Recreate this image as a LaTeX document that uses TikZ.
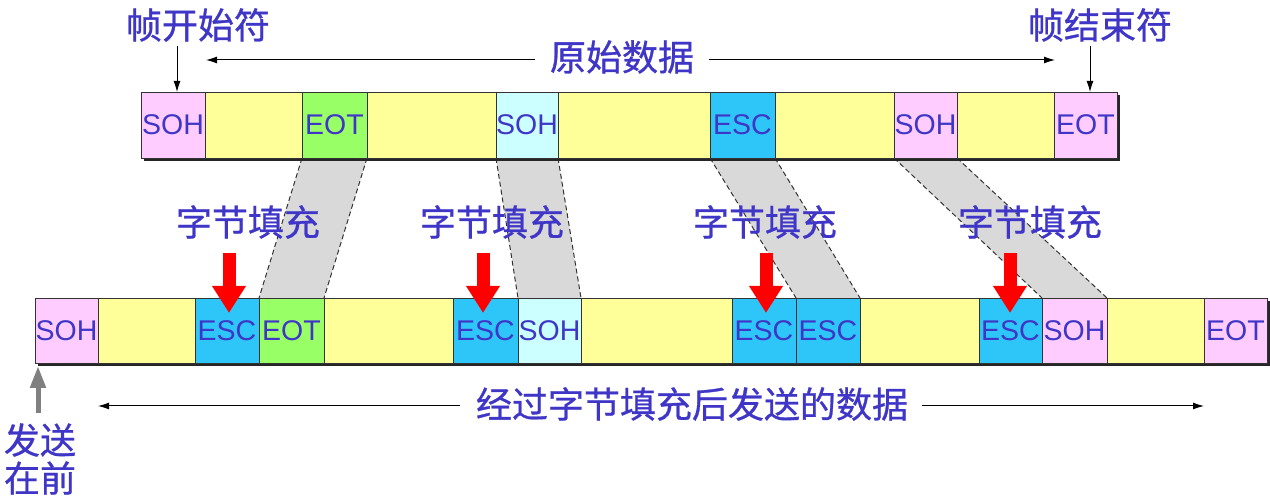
\documentclass[tikz,border=0pt]{standalone}
\usepackage{fontspec}
\setmainfont{Liberation Sans}
\newfontfamily\cjk[FakeBold=0.8]{Noto Sans CJK SC}
\usetikzlibrary{arrows.meta}
\newcommand\celltxt[1]{\makebox[0pt]{#1}}
\definecolor{txt}{HTML}{3F36C8}
\definecolor{pinkc}{HTML}{FFCCFF}
\definecolor{yelc}{HTML}{FFFF99}
\definecolor{grnc}{HTML}{99FF66}
\definecolor{cyac}{HTML}{CCFFFF}
\definecolor{escc}{HTML}{2EC6F8}
\definecolor{bandc}{HTML}{D9D9D9}
\tikzset{
  cell/.style={draw=black!80, line width=0.8pt, minimum height=66pt, inner sep=0pt, outer sep=0pt,
    anchor=north west, font=\fontsize{28.5}{32}\selectfont, text=txt},
  bcell/.style={cell, minimum height=65pt},
  lbl/.style={inner sep=0pt, text=txt, font=\cjk\fontsize{36}{40}\selectfont},
  arr/.style={line width=1pt, -{Latex[length=11pt,width=7pt]}},
  shadowc/.style={fill=black!85},
  band/.style={fill=bandc},
  bandedge/.style={line width=1pt, black!80, dash pattern=on 5pt off 3pt},
  redarrow/.style={red, line width=13pt, -{Triangle[width=32pt,length=27pt]}},
  grayarrow/.style={black!50, line width=5pt, -{Triangle[width=15pt,length=22pt]}}
}
\begin{document}
\begin{tikzpicture}[x=1pt,y=-1pt]
\useasboundingbox (0,0) rectangle (1270,502);
% top bar (placed first for positions, drawn later)
\path
  node[cell, minimum width=64pt, fill=pinkc] (t1) at (141,92) {}
  node[cell, minimum width=97pt, fill=yelc] (t2) at (t1.north east) {}
  node[cell, minimum width=65pt, fill=grnc] (t3) at (t2.north east) {}
  node[cell, minimum width=129pt, fill=yelc] (t4) at (t3.north east) {}
  node[cell, minimum width=62pt, fill=cyac] (t5) at (t4.north east) {}
  node[cell, minimum width=152pt, fill=yelc] (t6) at (t5.north east) {}
  node[cell, minimum width=65pt, fill=escc] (t7) at (t6.north east) {}
  node[cell, minimum width=119pt, fill=yelc] (t8) at (t7.north east) {}
  node[cell, minimum width=63pt, fill=pinkc] (t9) at (t8.north east) {}
  node[cell, minimum width=97pt, fill=yelc] (t10) at (t9.north east) {}
  node[cell, minimum width=63pt, fill=pinkc] (t11) at (t10.north east) {};
\path
  node[bcell, minimum width=63pt, fill=pinkc] (b1) at (35,298) {}
  node[bcell, minimum width=97pt, fill=yelc] (b2) at (b1.north east) {}
  node[bcell, minimum width=64pt, fill=escc] (b3) at (b2.north east) {}
  node[bcell, minimum width=65pt, fill=grnc] (b4) at (b3.north east) {}
  node[bcell, minimum width=129pt, fill=yelc] (b5) at (b4.north east) {}
  node[bcell, minimum width=65pt, fill=escc] (b6) at (b5.north east) {}
  node[bcell, minimum width=63pt, fill=cyac] (b7) at (b6.north east) {}
  node[bcell, minimum width=151pt, fill=yelc] (b8) at (b7.north east) {}
  node[bcell, minimum width=64pt, fill=escc] (b9) at (b8.north east) {}
  node[bcell, minimum width=64pt, fill=escc] (b10) at (b9.north east) {}
  node[bcell, minimum width=119pt, fill=yelc] (b11) at (b10.north east) {}
  node[bcell, minimum width=63pt, fill=escc] (b12) at (b11.north east) {}
  node[bcell, minimum width=65pt, fill=pinkc] (b13) at (b12.north east) {}
  node[bcell, minimum width=97pt, fill=yelc] (b14) at (b13.north east) {}
  node[bcell, minimum width=63pt, fill=pinkc] (b15) at (b14.north east) {};
% bands
\foreach \a/\b in {t3/b4, t5/b7, t7/b10, t9/b13}{
  \fill[band] (\a.south west) -- (\b.north west) -- (\b.north east) -- (\a.south east) -- cycle;
  \draw[bandedge] (\a.south west) -- (\b.north west);
  \draw[bandedge] (\a.south east) -- (\b.north east);
}
% shadows
\fill[shadowc] ([xshift=3pt,yshift=-3pt]t1.north west) rectangle ([xshift=3pt,yshift=-3pt]t11.south east);
\fill[shadowc] ([xshift=3pt,yshift=-3pt]b1.north west) rectangle ([xshift=3pt,yshift=-3pt]b15.south east);
% cells with labels on top
\foreach \n/\w/\c/\t in {t1/64/pinkc/SOH, t2/97/yelc/, t3/65/grnc/EOT, t4/129/yelc/, t5/62/cyac/SOH, t6/152/yelc/, t7/65/escc/ESC, t8/119/yelc/, t9/63/pinkc/SOH, t10/97/yelc/, t11/63/pinkc/EOT}{
  \node[cell, minimum width=\w pt, fill=\c] at (\n.north west) {\celltxt{\t}};
}
\foreach \n/\w/\c/\t in {b1/63/pinkc/SOH, b2/97/yelc/, b3/64/escc/ESC, b4/65/grnc/EOT, b5/129/yelc/, b6/65/escc/ESC, b7/63/cyac/SOH, b8/151/yelc/, b9/64/escc/ESC, b10/64/escc/ESC, b11/119/yelc/, b12/63/escc/ESC, b13/65/pinkc/SOH, b14/97/yelc/, b15/63/pinkc/EOT}{
  \node[bcell, minimum width=\w pt, fill=\c] at (\n.north west) {\celltxt{\t}};
}
% top labels
\node[lbl] (start) at (198,25) {帧开始符};
\node[lbl] (end) at (1100,25) {帧结束符};
\node[lbl] (orig) at (622,57) {原始数据};
\coordinate (sa) at (177,46);
\coordinate (ea) at (1090,46);
\draw[arr] (sa) -- (sa |- t1.north);
\draw[arr] (ea) -- (ea |- t11.north);
\coordinate (ol) at (206,60);
\coordinate (or) at (1055,60);
\draw[arr] ([xshift=-15pt]orig.west |- ol) -- (ol);
\draw[arr] ([xshift=15pt]orig.east |- or) -- (or);
% stuffing labels
\node[lbl] (s1) at (248,222) {字节填充};
\node[lbl] (s2) at (492,222) {字节填充};
\node[lbl] (s3) at (765,222) {字节填充};
\node[lbl] (s4) at (1030,222) {字节填充};
% red arrows
\foreach \x in {229, 483, 766, 1010}{
  \coordinate (rs) at (\x,253);
  \coordinate (re) at (\x,313);
  \draw[redarrow] (rs) -- (re);
}
% bottom label
\node[lbl] (sent) at (692,404) {经过字节填充后发送的数据};
\coordinate (bl) at (98,406);
\coordinate (br) at (1204,406);
\draw[arr] ([xshift=-16pt]sent.west |- bl) -- (bl);
\draw[arr] ([xshift=14pt]sent.east |- br) -- (br);
% send first
\coordinate (ga) at (38,413);
\coordinate (gb) at (38,366);
\draw[grayarrow] (ga) -- (gb);
\node[lbl] (f1) at (40,440) {发送};
\node[lbl] (f2) at (40,478) {在前};
\end{tikzpicture}
\end{document}
